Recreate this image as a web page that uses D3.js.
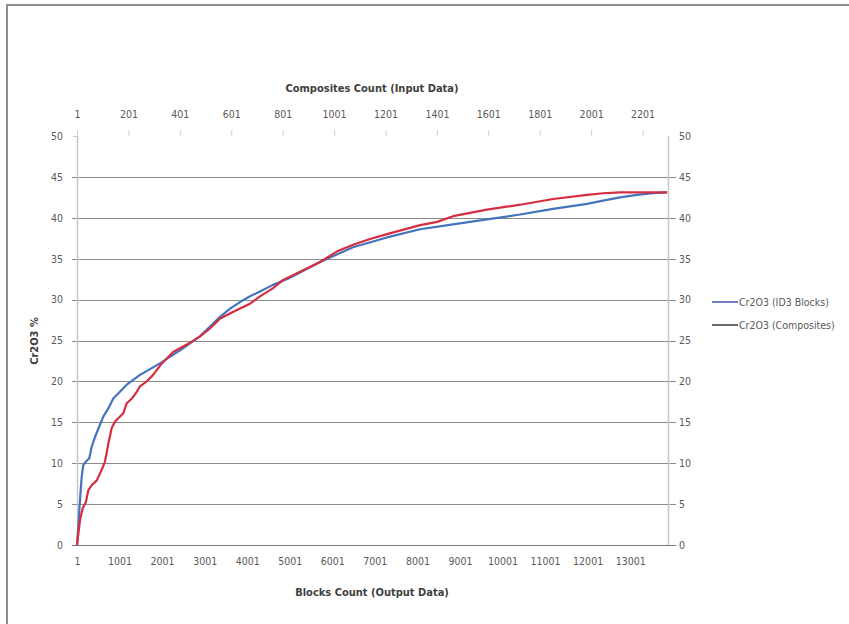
<!DOCTYPE html>
<html>
<head>
<meta charset="utf-8">
<script src="https://cdn.jsdelivr.net/npm/d3@7"></script>
<style>
  html, body { margin: 0; padding: 0; background: #fff; }
  svg text { font-family: "Liberation Sans Narrow", "DejaVu Sans Condensed", "Liberation Sans", sans-serif; }
</style>
</head>
<body>
<svg id="chart" width="849" height="624"></svg>
<script>
// ---- data ----
const blockCount = [1, 32, 55, 88, 111, 149, 229, 290, 346, 424, 541, 619, 737, 854, 1169, 1482, 1951, 2421, 2891, 3127, 3362, 3597, 3832, 4067, 4302, 4607, 4983, 5712, 6487, 7286, 8062, 8837, 9636, 10412, 11188, 11987, 12363, 12763, 13162, 13538, 13867];
const blockGrade = [0, 2.2, 4.3, 6.7, 8.3, 9.8, 10.3, 10.6, 12.0, 13.2, 14.7, 15.7, 16.7, 17.9, 19.6, 20.8, 22.2, 23.8, 25.5, 26.7, 27.9, 28.9, 29.7, 30.4, 31.0, 31.8, 32.6, 34.6, 36.4, 37.6, 38.6, 39.2, 39.8, 40.4, 41.1, 41.7, 42.1, 42.5, 42.8, 43.0, 43.1];

const compCount = [1, 13, 23, 36, 45, 58, 78, 97, 110, 123, 136, 149, 181, 194, 214, 233, 246, 272, 297, 331, 375, 428, 480, 519, 558, 596, 635, 674, 713, 764, 803, 947, 1013, 1075, 1141, 1207, 1336, 1402, 1464, 1530, 1596, 1725, 1853, 1986, 2048, 2114, 2297];
const compGrade = [0, 3.1, 4.5, 5.3, 6.7, 7.3, 7.9, 9.2, 10.2, 12.4, 14.3, 15.1, 16.1, 17.3, 17.9, 18.7, 19.4, 20.0, 20.8, 22.2, 23.6, 24.5, 25.5, 26.5, 27.7, 28.3, 28.9, 29.5, 30.4, 31.4, 32.4, 34.6, 35.9, 36.7, 37.4, 38.0, 39.1, 39.5, 40.2, 40.6, 41.0, 41.6, 42.3, 42.8, 43.0, 43.1, 43.1];

const blockTicks = [1, 1001, 2001, 3001, 4001, 5001, 6001, 7001, 8001, 9001, 10001, 11001, 12001, 13001];
const compTicks = [1, 201, 401, 601, 801, 1001, 1201, 1401, 1601, 1801, 2001, 2201];
const yTicks = [0, 5, 10, 15, 20, 25, 30, 35, 40, 45, 50];
const seriesNames = ["Cr2O3 (ID3 Blocks)", "Cr2O3 (Composites)"];
const blockMax = 13890;
const compMax = 2300;

// ---- layout ----
const svg = d3.select("#chart");
const L = 77, R = 668, T = 136, B = 545;
const textCol = "#595959";

// outer border (partially visible)
svg.append("path").attr("d", "M7,624 V5 H849").attr("fill", "none")
  .attr("stroke", "#8e8e8e").attr("stroke-width", 2);

const xB = d3.scaleLinear().domain([1, blockMax]).range([L, R]);
const xC = d3.scaleLinear().domain([1, compMax]).range([L, R]);
const y = d3.scaleLinear().domain([0, 50]).range([B, T]);

// gridlines
svg.append("g").selectAll("line").data(yTicks.filter(d => d > 0 && d < 50)).join("line")
  .attr("x1", L - 5).attr("x2", R + 8)
  .attr("y1", d => Math.round(y(d)) + 0.5).attr("y2", d => Math.round(y(d)) + 0.5)
  .attr("stroke", "#8a8a8a").attr("stroke-width", 1);

// vertical axis lines
svg.append("line").attr("x1", L + 0.5).attr("x2", L + 0.5).attr("y1", T).attr("y2", B)
  .attr("stroke", "#c8c8c8").attr("stroke-width", 1.5);
svg.append("line").attr("x1", R + 0.5).attr("x2", R + 0.5).attr("y1", T).attr("y2", B)
  .attr("stroke", "#c8c8c8").attr("stroke-width", 1.5);

// bottom axis line
svg.append("line").attr("x1", L - 5).attr("x2", R + 8)
  .attr("y1", Math.round(y(0)) + 0.5).attr("y2", Math.round(y(0)) + 0.5)
  .attr("stroke", "#7a7a7a").attr("stroke-width", 1);

// left axis labels
const leftAx = d3.axisLeft(y).tickValues(yTicks).tickSize(0).tickPadding(14);
const gl = svg.append("g").attr("transform", `translate(${L},0)`).call(leftAx);
gl.select(".domain").remove();
gl.selectAll("text").attr("fill", textCol).attr("font-size", 10.5);
svg.append("line").attr("x1", L - 4).attr("x2", L).attr("y1", y(50) + 0.5).attr("y2", y(50) + 0.5)
  .attr("stroke", "#c8c8c8");

// right axis labels
const rightAx = d3.axisRight(y).tickValues(yTicks).tickSize(0).tickPadding(11);
const gr = svg.append("g").attr("transform", `translate(${R},0)`).call(rightAx);
gr.select(".domain").remove();
gr.selectAll("text").attr("fill", textCol).attr("font-size", 10.5);

// bottom axis (blocks)
const botAx = d3.axisBottom(xB).tickValues(blockTicks).tickFormat(d3.format("d")).tickSize(0).tickPadding(13);
const gb = svg.append("g").attr("transform", `translate(0,${B})`).call(botAx);
gb.select(".domain").remove();
gb.selectAll("text").attr("fill", textCol).attr("font-size", 10.5);

// top axis (composites)
const topAx = d3.axisTop(xC).tickValues(compTicks).tickFormat(d3.format("d")).tickSize(6).tickPadding(12);
const gt = svg.append("g").attr("transform", `translate(0,${T})`).call(topAx);
gt.select(".domain").remove();
gt.selectAll("line").attr("stroke", "#d0d0d0");
gt.selectAll("text").attr("fill", textCol).attr("font-size", 10.5);

// titles
svg.append("text").attr("x", 372).attr("y", 92).attr("text-anchor", "middle")
  .attr("font-size", 11).attr("font-weight", "bold").attr("fill", "#404040")
  .text("Composites Count (Input Data)");
svg.append("text").attr("x", 372).attr("y", 596).attr("text-anchor", "middle")
  .attr("font-size", 11).attr("font-weight", "bold").attr("fill", "#404040")
  .text("Blocks Count (Output Data)");
svg.append("text").attr("transform", "translate(38,341) rotate(-90)").attr("text-anchor", "middle")
  .attr("font-size", 11).attr("font-weight", "bold").attr("fill", "#404040")
  .text("Cr2O3 %");

// series
const blueCol = "#4374bd", redCol = "#d62d40";
const lineB = d3.line().x((d, i) => xB(blockCount[i])).y(d => y(d)).curve(d3.curveLinear);
const lineC = d3.line().x((d, i) => xC(compCount[i])).y(d => y(d)).curve(d3.curveLinear);
svg.append("path").datum(blockGrade).attr("d", lineB).attr("fill", "none")
  .attr("stroke", blueCol).attr("stroke-width", 2.2).attr("stroke-linejoin", "round");
svg.append("path").datum(compGrade).attr("d", lineC).attr("fill", "none")
  .attr("stroke", redCol).attr("stroke-width", 2.2).attr("stroke-linejoin", "round");

// legend
const legCols = ["#4f5fb0", "#454545"];
const lg = svg.append("g");
seriesNames.forEach((n, i) => {
  const yy = 302 + i * 23;
  lg.append("line").attr("x1", 712).attr("x2", 738).attr("y1", yy).attr("y2", yy)
    .attr("stroke", legCols[i]).attr("stroke-width", 1.6);
  lg.append("text").attr("x", 739).attr("y", yy + 3.5).attr("font-size", 10.5)
    .attr("fill", textCol).text(n);
});
</script>
</body>
</html>
